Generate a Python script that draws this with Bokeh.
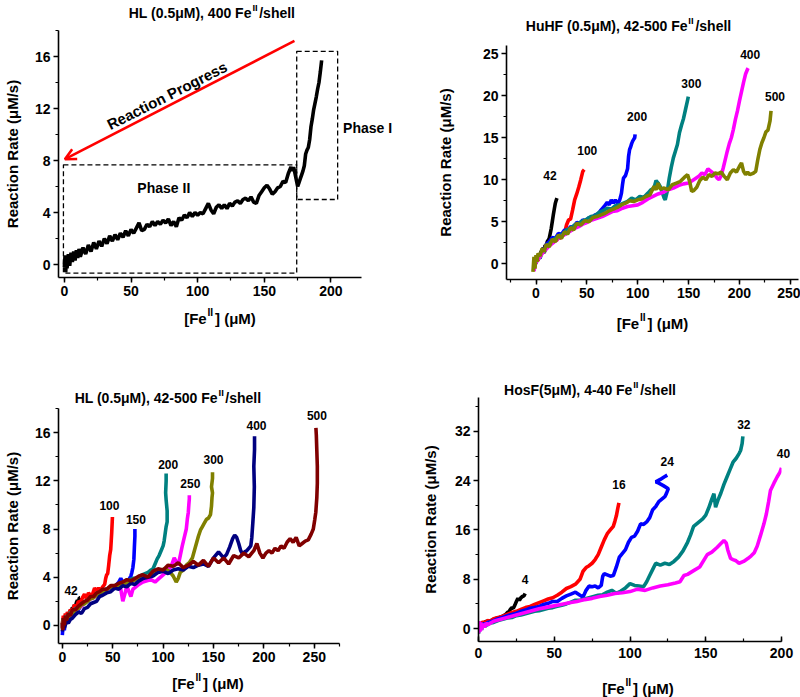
from bokeh.plotting import figure
from bokeh.layouts import column, row
from bokeh.models import Label, Range1d, SingleIntervalTicker, Arrow, OpenHead
from bokeh.embed import file_html
from bokeh.resources import INLINE
import math

FONT = "Liberation Sans"

# ---------------- data ----------------
# Panel A: HL (0.5uM), 400 Fe/shell
hl400_x = [0, 0.5, 1, 1.5, 2, 3, 4, 5, 6, 7, 8, 9, 10, 11, 12, 14, 16, 18, 20, 22, 24, 26, 28, 30, 32, 34, 36, 38, 40,
           42, 44, 46, 48, 50, 52, 54, 56, 58, 60, 62, 64, 66, 68, 70, 72, 74, 76, 78, 80, 82, 84, 86, 88, 90, 92, 94,
           96, 98, 100, 102, 104, 106, 108, 110, 112, 114, 116, 118, 120, 122, 124, 126, 128, 130, 132, 134, 136, 138,
           140, 142, 144, 146, 148, 150, 152, 154, 156, 158, 160, 162, 164, 166, 168, 170, 171, 172, 173, 174, 175, 176,
           177, 178, 179, 180, 181, 182, 183, 184, 185, 186, 187, 188, 189, 190, 191, 192, 193]
hl400_y = [-0.2, 0.7, -0.6, 0.4, -0.3, 0.8, -0.1, 0.9, 0.2, 1.0, 0.3, 1.1, 0.5, 1.2, 0.6, 1.3, 0.8, 1.5, 1.0, 1.7, 1.2,
           1.8, 1.4, 2.0, 1.6, 2.2, 1.8, 2.3, 1.9, 2.4, 2.1, 2.6, 2.2, 2.7, 2.4, 2.8, 3.2, 2.6, 2.7, 3.1, 2.9, 3.3, 3.0,
           3.3, 3.1, 3.4, 3.2, 3.5, 3.0, 3.3, 2.9, 3.6, 3.4, 3.8, 3.6, 4.0, 3.7, 4.0, 3.8, 4.0, 3.9, 4.3, 4.7, 4.2, 3.9,
           4.4, 4.6, 4.3, 4.6, 4.3, 4.7, 4.5, 4.8, 4.9, 4.7, 5.0, 5.1, 4.9, 5.2, 4.8, 4.7, 5.3, 5.6, 5.9, 6.1, 5.8, 5.4,
           5.6, 5.9, 6.0, 6.4, 6.3, 7.0, 7.5, 7.2, 7.5, 7.0, 6.5, 6.0, 6.3, 6.6, 6.9, 7.2, 7.6, 8.5, 8.8, 9.0, 9.6, 10.6,
           11.2, 11.9, 12.4, 12.9, 13.5, 14.0, 14.8, 15.7]

# Panel B: HuHF (0.5uM), 42-500 Fe/shell
huhf_names = ["42", "100", "200", "300", "400", "500"]
huhf_colors = ["#000000", "#FF0000", "#0000FF", "#008080", "#FF00FF", "#808000"]
huhf_42_x = [-2, -1, 0, 1, 2, 3, 4, 5, 6, 7, 8, 9, 10, 11, 12, 13, 14, 15, 16, 17, 18, 19, 20, 20.6]
huhf_42_y = [-0.3, 0.6, 0.1, 0.9, 0.5, 1.2, 0.9, 1.5, 1.3, 1.9, 1.7, 2.2, 2.0, 2.6, 2.8, 3.0, 3.6, 4.2, 5.0, 5.8, 6.5,
             7.2, 7.6, 7.8]
huhf_100_x = [-2, -1, 0, 1, 2, 3, 4, 6, 8, 10, 12, 14, 16, 18, 20, 22, 24, 26, 28, 30, 32, 34, 36, 38, 40, 42, 44, 46,
              47.4]
huhf_100_y = [-0.5, 0.5, 0.0, 0.8, 0.3, 1.0, 0.8, 1.4, 1.3, 1.9, 2.1, 2.6, 2.8, 3.0, 2.7, 3.1, 3.0, 3.4, 3.6, 4.6, 5.2,
              5.3, 6.4, 7.6, 8.3, 9.1, 10.0, 11.0, 11.2]
huhf_200_x = [-2, -1, 0, 2, 4, 6, 8, 10, 13, 16, 19, 22, 25, 28, 31, 34, 37, 40, 43, 46, 49, 52, 55, 58, 61, 64, 67, 70,
              72, 74, 76, 78, 80, 82, 83, 84, 85, 86, 88, 90, 91, 92, 93, 94, 95, 96, 97, 97.4]
huhf_200_y = [-0.6, 0.4, 0.2, 1.0, 0.9, 1.6, 1.6, 2.3, 2.6, 3.1, 3.0, 3.6, 3.5, 4.0, 3.9, 4.4, 4.3, 4.9, 4.8, 5.2, 5.0,
              5.5, 5.3, 5.8, 5.9, 6.4, 6.8, 7.3, 7.0, 7.6, 7.2, 7.6, 7.2, 7.5, 7.9, 8.4, 9.4, 10.2, 10.5, 11.3, 12.8,
              13.6, 13.9, 14.3, 14.6, 14.8, 15.0, 15.4]
huhf_300_x = [-2, -1, 0, 2, 4, 6, 8, 10, 14, 18, 22, 26, 30, 34, 38, 42, 46, 50, 54, 58, 62, 66, 70, 74, 78, 82, 86, 90,
              94, 98, 102, 106, 110, 113, 116, 118, 120, 122, 124, 126, 127, 129, 131, 133, 135, 137, 139, 141, 143,
              145, 147, 149, 149.7]
huhf_300_y = [-0.8, 0.3, 0.0, 0.9, 0.6, 1.5, 1.3, 2.0, 2.5, 2.9, 3.3, 3.5, 4.0, 4.2, 4.6, 4.8, 5.1, 5.3, 5.6, 5.7, 6.1,
              6.3, 6.6, 6.5, 6.9, 7.0, 7.2, 7.4, 7.8, 7.6, 8.0, 7.9, 8.4, 8.8, 9.0, 9.9, 9.6, 9.2, 8.5, 7.8, 7.6, 8.6,
              10.2, 11.5, 12.6, 13.4, 14.2, 15.6, 16.5, 17.3, 18.4, 19.5, 19.9]
huhf_400_x = [-2, -1, 0, 2, 4, 6, 8, 10, 14, 18, 22, 26, 30, 34, 38, 42, 46, 50, 55, 60, 65, 70, 75, 80, 85, 90, 95,
              100, 105, 110, 115, 120, 125, 130, 135, 140, 145, 150, 155, 160, 163, 166, 169, 172, 175, 178, 180, 182,
              184, 186, 188, 190, 192, 194, 196, 198, 200, 202, 204, 206, 208, 208.5]
huhf_400_y = [-0.9, -0.2, 0.1, 0.5, 0.8, 1.2, 1.5, 1.7, 2.2, 2.6, 3.0, 3.3, 3.6, 3.9, 4.2, 4.4, 4.7, 4.9, 5.2, 5.4, 5.6,
              5.9, 6.2, 6.3, 6.6, 6.8, 6.9, 7.0, 7.3, 7.7, 8.0, 8.3, 8.5, 8.8, 9.0, 9.3, 9.5, 9.6, 10.0, 10.4, 10.8,
              10.6, 11.3, 11.0, 10.7, 10.2, 10.0, 10.5, 11.4, 12.4, 13.4, 14.3, 15.0, 16.0, 17.2, 18.2, 19.4, 20.5,
              21.6, 22.6, 23.2, 23.3]
huhf_500_x = [-3, -2, -1, 0, 1, 2, 4, 6, 8, 10, 13, 16, 19, 22, 25, 28, 31, 34, 37, 40, 44, 48, 52, 56, 60, 64, 68, 72,
              76, 80, 84, 88, 92, 96, 100, 104, 108, 112, 114, 116, 118, 120, 122, 126, 130, 134, 138, 142, 146, 149,
              151, 153, 155, 158, 161, 164, 167, 170, 173, 176, 179, 182, 185, 188, 191, 194, 197, 200, 202, 204, 206,
              208, 210, 212, 214, 216, 218, 220, 222, 224, 226, 228, 230, 231]
huhf_500_y = [-1.0, 0.8, -0.6, 1.0, 0.2, 1.2, 0.9, 1.8, 1.4, 2.3, 2.0, 2.9, 2.6, 3.4, 3.0, 3.8, 3.5, 4.3, 4.0, 4.8, 4.6,
              5.1, 5.0, 5.5, 5.6, 5.8, 6.0, 6.3, 6.5, 6.7, 7.0, 7.2, 7.5, 7.4, 7.6, 7.7, 8.0, 8.2, 8.7, 9.2, 8.8, 9.6,
              8.9, 9.0, 8.8, 9.4, 9.6, 9.8, 10.3, 10.6, 9.8, 8.6, 8.7, 9.1, 9.9, 10.3, 10.0, 10.6, 10.4, 10.8, 10.7,
              10.9, 10.4, 10.0, 10.8, 11.2, 10.9, 11.6, 12.0, 11.0, 10.6, 10.9, 10.6, 10.7, 10.8, 11.0, 12.4, 13.6,
              14.4, 15.0, 15.7, 15.9, 17.0, 18.2]

# Panel C: HL (0.5uM), 42-500 Fe/shell
hl_names = ["42", "100", "150", "200", "250", "300", "400", "500"]
hl_colors = ["#000000", "#FF0000", "#0000FF", "#008080", "#FF00FF", "#808000", "#000080", "#800000"]
hl_42_x = [0, 0.5, 1, 2, 3, 4, 5, 6, 7, 8, 9, 10, 11, 12, 13, 14, 15, 16, 17, 17.6]
hl_42_y = [-0.2, 0.5, 0.0, 0.7, 0.3, 0.9, 0.6, 1.1, 0.8, 1.3, 1.1, 1.5, 1.4, 1.7, 1.6, 1.9, 2.1, 2.0, 2.3, 2.3]
hl_100_x = [0, 1, 2, 3, 4, 5, 6, 8, 10, 12, 14, 16, 18, 20, 22, 24, 26, 28, 30, 32, 34, 36, 38, 40, 42, 43, 44, 45, 46,
            47, 48, 48.5, 49, 49.5, 49.7]
hl_100_y = [0.1, 0.8, 0.3, 1.0, 0.6, 1.1, 0.8, 1.3, 1.2, 1.7, 1.5, 2.0, 1.9, 2.3, 2.6, 2.2, 2.7, 2.5, 2.6, 3.1, 2.9, 3.1,
            2.9, 3.2, 3.4, 3.9, 4.2, 4.3, 5.0, 5.8, 6.3, 7.0, 7.7, 8.6, 9.0]
hl_150_x = [0, 1, 2, 3, 4, 6, 8, 10, 12, 14, 16, 18, 20, 23, 26, 29, 32, 35, 38, 41, 44, 47, 50, 53, 56, 58, 60, 62, 64,
            66, 68, 69, 70, 71, 71.5, 72, 72]
hl_150_y = [-0.8, 0.3, -0.4, 0.6, 0.2, 0.7, 0.6, 1.0, 1.1, 1.4, 1.3, 1.6, 1.7, 2.0, 2.1, 2.3, 2.4, 2.6, 2.7, 2.8, 3.0,
            3.1, 3.1, 3.3, 3.6, 3.9, 3.6, 3.3, 3.5, 3.8, 4.1, 4.4, 4.8, 5.5, 6.5, 7.4, 8.0]
hl_200_x = [0, 1, 2, 4, 6, 8, 10, 13, 16, 19, 22, 25, 28, 31, 34, 37, 40, 43, 46, 49, 52, 55, 58, 61, 64, 67, 70, 73, 76,
            79, 82, 85, 88, 90, 92, 94, 96, 98, 100, 101, 102, 103, 104, 104, 103, 102.5, 103, 103]
hl_200_y = [0.0, 0.6, 0.3, 0.8, 0.7, 1.1, 1.0, 1.4, 1.5, 1.8, 1.9, 2.1, 2.3, 2.4, 2.6, 2.7, 2.8, 3.0, 3.1, 3.2, 3.3, 3.4,
            3.5, 3.6, 3.6, 3.8, 3.9, 3.9, 4.0, 4.2, 4.3, 4.4, 4.6, 4.7, 5.1, 5.5, 5.8, 6.2, 6.6, 7.0, 7.6, 8.2, 8.6,
            9.5, 10.4, 11.0, 12.0, 12.6]
hl_250_x = [0, 0.5, 1, 2, 4, 6, 8, 10, 13, 16, 19, 22, 25, 28, 31, 34, 37, 40, 43, 46, 49, 52, 55, 58, 60, 62, 64, 66,
            68, 70, 73, 76, 80, 84, 88, 92, 96, 100, 104, 108, 111, 113, 115, 117, 119, 121, 123, 124, 125, 125.5, 126,
            126]
hl_250_y = [0.0, -0.3, 0.4, 0.2, 0.6, 0.5, 0.9, 1.0, 1.3, 1.4, 1.6, 1.9, 2.0, 2.2, 2.3, 2.5, 2.6, 2.8, 2.9, 3.1, 3.2,
            3.3, 3.2, 3.0, 2.0, 2.6, 3.3, 2.8, 2.4, 3.0, 3.2, 3.4, 3.6, 3.7, 3.8, 3.6, 3.9, 4.2, 4.5, 4.9, 5.6, 5.3,
            5.0, 5.8, 6.6, 7.3, 8.0, 8.8, 9.4, 10.0, 10.5, 10.8]
hl_300_x = [0, 1, 2, 4, 6, 8, 10, 13, 16, 19, 22, 25, 28, 31, 34, 37, 40, 43, 46, 50, 54, 58, 62, 66, 70, 74, 78, 82,
            86, 90, 94, 98, 102, 106, 110, 113, 115, 117, 120, 123, 126, 129, 131, 133, 135, 137, 139, 141, 143, 145,
            147, 148, 148.5, 149, 148, 149, 149]
hl_300_y = [-0.3, 0.5, 0.1, 0.7, 0.5, 1.0, 0.9, 1.3, 1.4, 1.7, 1.8, 2.0, 2.2, 2.3, 2.5, 2.6, 2.8, 2.9, 3.1, 3.2, 3.3,
            3.4, 3.5, 3.6, 3.7, 3.8, 3.8, 4.0, 4.1, 4.2, 4.4, 4.6, 4.7, 4.5, 4.1, 3.6, 3.9, 4.4, 4.6, 5.0, 5.2, 5.6,
            6.2, 6.8, 7.4, 7.9, 8.2, 8.5, 8.8, 8.9, 9.2, 9.9, 10.6, 11.0, 11.5, 12.2, 12.7]
hl_400_x = [0, 1, 2, 4, 6, 8, 10, 13, 16, 19, 22, 25, 28, 31, 34, 37, 40, 44, 48, 52, 56, 60, 64, 68, 72, 76, 80, 85, 90,
            95, 100, 105, 110, 115, 120, 125, 130, 135, 140, 145, 150, 155, 160, 163, 166, 169, 171, 173, 175, 177,
            179, 181, 183, 185, 187, 188, 189, 190, 190.5, 190, 190.7, 190.7]
hl_400_y = [-0.5, 0.2, -0.2, 0.3, 0.2, 0.5, 0.6, 0.9, 1.1, 1.0, 1.4, 1.5, 1.8, 1.9, 2.0, 2.4, 2.5, 2.7, 2.8, 3.1, 3.0,
            3.3, 3.2, 3.5, 3.4, 3.7, 3.9, 4.0, 4.1, 4.4, 4.5, 4.3, 4.6, 4.7, 4.6, 4.9, 4.8, 5.0, 5.1, 4.9, 5.6, 6.1,
            5.6, 5.9, 6.5, 7.2, 7.5, 7.3, 6.8, 6.2, 5.9, 6.1, 6.2, 6.4, 6.6, 7.3, 8.5, 9.8, 11.5, 13.2, 14.6, 15.7]
hl_500_x = [0, 0.5, 1, 2, 3, 4, 6, 8, 10, 13, 16, 19, 22, 25, 28, 31, 34, 37, 40, 44, 48, 52, 56, 60, 64, 68, 72, 76, 80,
            85, 90, 95, 100, 105, 110, 115, 120, 125, 130, 135, 140, 145, 150, 155, 160, 165, 170, 175, 180, 185, 190,
            193, 196, 199, 202, 205, 208, 211, 214, 217, 220, 223, 226, 229, 232, 235, 238, 241, 244, 247, 249, 250.5,
            251.5, 252.5, 253, 253, 252.5, 252, 251.6]
hl_500_y = [0.2, -0.4, 0.6, 0.0, 0.8, 0.4, 1.0, 0.8, 1.3, 1.3, 1.6, 1.8, 2.0, 2.1, 2.4, 2.4, 2.7, 2.8, 3.0, 3.0, 3.3,
            3.3, 3.5, 3.6, 3.8, 3.7, 3.9, 4.1, 4.2, 4.0, 4.5, 4.7, 4.6, 5.0, 4.9, 5.2, 4.8, 5.0, 5.3, 5.0, 5.4, 4.9,
            5.6, 5.2, 5.6, 5.1, 5.8, 5.6, 6.0, 5.7, 6.2, 6.8, 6.0, 5.6, 6.0, 6.2, 6.0, 6.4, 6.2, 6.6, 6.4, 6.9, 7.2,
            6.9, 7.3, 6.6, 6.8, 7.0, 7.1, 7.6, 8.0, 8.8, 9.4, 10.6, 11.8, 13.2, 14.5, 15.8, 16.4]

# Panel D: HosF (5uM), 4-40 Fe/shell
hosf_names = ["4", "16", "24", "32", "40"]
hosf_colors = ["#000000", "#FF0000", "#0000FF", "#008080", "#FF00FF"]
hosf_4_x = [0, 1, 2, 3, 4, 5, 6, 8, 10, 12, 14, 16, 18, 19, 20, 21, 22, 23, 24, 25, 26, 27, 28, 29, 30, 30.8]
hosf_4_y = [0.2, 1.0, 0.4, 1.1, 0.6, 1.3, 0.9, 1.3, 1.5, 1.7, 1.8, 2.0, 2.3, 2.6, 2.7, 3.1, 3.4, 3.3, 3.8, 4.4, 4.9,
            4.6, 5.0, 5.2, 5.3, 5.7]
hosf_16_x = [0, 1, 2, 3, 4, 6, 8, 10, 13, 16, 19, 22, 25, 28, 31, 34, 37, 40, 43, 46, 49, 52, 55, 58, 61, 64, 67, 69,
             71, 73, 75, 77, 79, 81, 83, 85, 87, 89, 90, 91, 92, 92.7]
hosf_16_y = [0.0, 0.9, 0.4, 1.2, 0.8, 1.3, 1.2, 1.6, 1.8, 2.0, 2.3, 2.6, 2.8, 3.1, 3.4, 3.6, 3.9, 4.2, 4.5, 4.8, 5.0,
             5.4, 5.9, 6.5, 6.8, 7.2, 8.0, 9.3, 9.9, 10.2, 10.6, 11.2, 12.0, 13.2, 14.4, 15.4, 16.0, 16.6, 17.4, 18.3,
             19.6, 20.4]
hosf_24_x = [0, 1, 2, 3, 4, 6, 8, 10, 13, 16, 19, 22, 25, 28, 31, 34, 37, 40, 43, 46, 49, 52, 55, 58, 61, 64, 67, 69,
             71, 73, 75, 77, 79, 81, 82, 83, 85, 87, 89, 91, 93, 95, 97, 99, 101, 103, 105, 107, 109, 111, 113, 115,
             117, 119, 121, 123, 124, 125.3, 122, 119, 117, 120, 122.5, 124.6]
hosf_24_y = [-0.3, 0.8, 0.2, 0.9, 0.5, 1.0, 1.1, 1.3, 1.6, 1.8, 2.1, 2.3, 2.5, 2.8, 3.0, 3.3, 3.4, 3.6, 3.9, 4.1, 4.4,
             4.4, 4.9, 5.3, 5.6, 5.9, 5.4, 5.1, 6.2, 6.9, 6.8, 6.9, 6.6, 7.0, 8.5, 8.9, 8.7, 8.5, 8.6, 10.0, 11.6,
             12.2, 12.8, 14.0, 14.8, 15.0, 15.8, 17.0, 16.9, 17.3, 18.0, 19.3, 19.8, 20.6, 21.0, 21.4, 21.9, 22.7,
             23.2, 23.6, 23.8, 24.2, 24.6, 24.9]
hosf_32_x = [0, 1, 2, 3, 4, 6, 8, 10, 13, 16, 19, 22, 25, 28, 31, 34, 37, 40, 43, 46, 49, 52, 55, 58, 61, 64, 67, 70,
             73, 76, 79, 82, 85, 88, 91, 94, 97, 100, 103, 106, 109, 111, 113, 115, 117, 120, 123, 126, 129, 132, 135,
             138, 140, 142, 145, 148, 150, 152, 154, 155.4, 156.5, 158, 160, 162, 164, 166, 168, 170, 172, 173, 174,
             174.5]
hosf_32_y = [-0.8, 0.6, -0.2, 0.8, 0.3, 0.7, 0.9, 1.0, 1.3, 1.5, 1.7, 1.8, 2.1, 2.2, 2.4, 2.6, 2.8, 2.9, 3.1, 3.3, 3.4,
             3.6, 3.8, 4.0, 4.3, 4.6, 4.6, 4.8, 5.0, 5.2, 5.4, 5.5, 5.9, 6.2, 5.7, 6.1, 6.6, 7.3, 7.0, 6.9, 6.8, 7.6,
             8.6, 9.6, 10.6, 10.3, 10.6, 10.4, 10.9, 11.6, 12.6, 14.0, 15.2, 16.6, 17.2, 17.8, 18.4, 19.6, 21.0, 21.9,
             19.7, 20.8, 22.0, 23.4, 24.6, 25.8, 27.0, 27.6, 28.4, 28.9, 30.0, 31.2]
hosf_40_x = [0, 0.5, 1, 1.5, 2, 3, 4, 5, 6, 8, 10, 13, 16, 19, 22, 25, 28, 31, 34, 37, 40, 44, 48, 52, 56, 60, 65, 70,
             75, 80, 85, 90, 95, 100, 105, 110, 115, 120, 125, 130, 133, 135.6, 138, 142, 146, 151, 154, 157.6, 160,
             162, 163.5, 164.5, 165.3, 166.4, 168, 170, 172, 175, 178, 180, 182, 184, 186, 188.4, 190, 191.5, 192.7,
             195, 197.1, 199, 200]
hosf_40_y = [-0.8, 1.2, -0.5, 1.0, -0.2, 0.8, 0.2, 0.9, 0.6, 0.9, 1.2, 1.4, 1.6, 1.8, 2.0, 2.2, 2.4, 2.6, 2.8, 3.0, 3.2,
             3.4, 3.6, 3.8, 4.0, 4.2, 4.4, 4.7, 4.9, 5.2, 5.4, 5.7, 5.8, 6.0, 6.4, 6.2, 6.6, 6.9, 7.1, 7.4, 7.6, 8.6,
             8.8, 9.4, 10.0, 12.0, 12.4, 13.2, 13.8, 14.3, 13.9, 12.8, 12.2, 11.4, 11.2, 11.0, 10.6, 10.9, 11.4, 11.8,
             12.3, 13.4, 15.0, 17.0, 18.6, 20.6, 22.4, 23.6, 24.6, 25.4, 26.1]

# ---------------- text metrics (Liberation Sans Bold == Arial Bold advance widths) ----------------
NB = "\u00a0"
AW = {' ': 278, NB: 278, '(': 333, ')': 333, '.': 278, ',': 278, '/': 278, '-': 333, '[': 333, ']': 333, 'μ': 611}
for d in '0123456789':
    AW[d] = 556
AW.update(dict(A=722, E=667, F=611, H=722, I=278, L=611, M=833, P=667, R=722, S=667))
AW.update(dict(a=556, c=556, e=556, g=611, h=611, i=278, l=278, n=611, o=611, r=389, s=556, t=333, u=611))


def tw(t, size):
    return sum(AW.get(c, 556) for c in t) * size / 1000.0


def lab(text, x, y, size, xoff=0.0, yoff=0.0, align="center", **kw):
    return Label(x=x, y=y, x_offset=xoff, y_offset=yoff, text=text, text_font=FONT, text_font_style="bold",
                 text_font_size=f"{size:.1f}px", text_align=align, text_baseline="middle", text_color="black", **kw)


def sup_text(p, x, y, pre, post, size, xoff, yoff, main_side, sup_side):
    """text 'pre' + superscript II + 'post'; side-panel labels so they are not clipped by the frame"""
    gap = NB + NB
    sup_size = size * 0.68
    w_pre, w_gap, w_post = tw(pre, size), tw(gap, size), tw(post, size)
    start = xoff - (w_pre + w_gap + w_post) / 2
    p.add_layout(lab(pre + gap + post, x, y, size, start, yoff, "left"), main_side)
    sx = start + w_pre + (w_gap - tw("II", sup_size)) / 2 - 0.5
    p.add_layout(lab("II", x, y, sup_size, sx, yoff + size * 0.38, "left"), sup_side)


def make_fig(w, h, xr, yr, borders, xint, yint, ylab_standoff, x_ticks_in=False):
    bl, br, bt, bb = borders
    p = figure(width=w, height=h, x_range=Range1d(*xr), y_range=Range1d(*yr), output_backend="svg",
               toolbar_location=None, min_border_left=bl, min_border_right=br, min_border_top=bt,
               min_border_bottom=bb)
    p.outline_line_color = None
    p.xgrid.visible = False
    p.ygrid.visible = False
    p.background_fill_color = "white"
    p.border_fill_color = "white"
    p.xaxis.ticker = SingleIntervalTicker(interval=xint, num_minor_ticks=2)
    p.yaxis.ticker = SingleIntervalTicker(interval=yint, num_minor_ticks=2)
    for ax in (p.xaxis[0], p.yaxis[0]):
        ax.axis_line_width = 1.6
        ax.axis_line_color = "black"
        ax.major_tick_line_color = "black"
        ax.minor_tick_line_color = "black"
        ax.major_tick_line_width = 1.5
        ax.minor_tick_line_width = 1.2
        ax.major_tick_out = 5
        ax.major_tick_in = 0
        ax.minor_tick_out = 3
        ax.minor_tick_in = 0
        ax.major_label_text_font = FONT
        ax.major_label_text_font_style = "bold"
        ax.major_label_text_font_size = "14px"
        ax.major_label_text_color = "black"
        ax.major_label_standoff = 3
    if x_ticks_in:
        ax = p.xaxis[0]
        ax.major_tick_out, ax.major_tick_in = 0, 5
        ax.minor_tick_out, ax.minor_tick_in = 0, 3
        ax.major_label_standoff = 6
    p.yaxis.axis_label = "Reaction Rate (μM/s)"
    p.yaxis.axis_label_text_font = FONT
    p.yaxis.axis_label_text_font_style = "bold"
    p.yaxis.axis_label_text_font_size = "15px"
    p.yaxis.axis_label_text_color = "black"
    p.yaxis.axis_label_standoff = ylab_standoff
    return p


def titles(p, xr, yr, title, tx, ty, lx, ly, tsup_side, xsup_side):
    xc = (xr[0] + xr[1]) / 2
    sup_text(p, xc, yr[1], title, "/shell", 14, tx, ty, "above", tsup_side)
    sup_text(p, xc, yr[0], "[Fe", "] (μM)", 15, lx, -ly, "below", xsup_side)


def number_labels(p, names, xs, ys, offs, side_for=None):
    side_for = side_for or {}
    for n, x, y, (dx, dy) in zip(names, xs, ys, offs):
        L = lab(n, x[-1], y[-1], 12, dx, dy)
        if n in side_for:
            p.add_layout(L, side_for[n])
        else:
            p.add_layout(L)


LW = 3.6

# ---------------- Panel A ----------------
xrA, yrA = (-4.4, 222.9), (-1.0, 18.0)
pA = make_fig(400, 350, xrA, yrA, (53, 39, 30, 73), 50, 4, 11)
titles(pA, xrA, yrA, "HL (0.5μM), 400 Fe", 2, 18, 10, 41, "right", "right")
phase2_box = dict(left=-0.7, right=174.3, bottom=-0.67, top=7.67)
phase1_box = dict(left=174.3, right=205.0, bottom=5.0, top=16.4)
for b in (phase2_box, phase1_box):
    pA.quad(left=[b["left"]], right=[b["right"]], bottom=[b["bottom"]], top=[b["top"]], fill_color=None,
            line_color="black", line_width=1.3, line_dash="5 3")
pA.line(hl400_x, hl400_y, line_color="black", line_width=LW)
arrow_start = (172.6, 17.2)
arrow_end = (0.4, 8.1)
pA.add_layout(Arrow(x_start=arrow_start[0], y_start=arrow_start[1], x_end=arrow_end[0], y_end=arrow_end[1],
                    line_color="#FF0000", line_width=2.6,
                    end=OpenHead(size=11, line_color="#FF0000", line_width=2.6)))
ppx = 308 / (xrA[1] - xrA[0])
ppy = 247 / (yrA[1] - yrA[0])
ang = math.degrees(math.atan2((arrow_start[1] - arrow_end[1]) * ppy, (arrow_start[0] - arrow_end[0]) * ppx))
pA.add_layout(lab("Reaction Progress", 77, 13.0, 15, angle=ang, angle_units="deg"))
pA.add_layout(lab("Phase II", 74.6, 5.85, 14))
pA.add_layout(lab("Phase I", 227.5, 10.5, 14), "below")

# ---------------- Panel B ----------------
xrB, yrB = (-29, 258), (-1.9, 26.0)
pB = make_fig(400, 350, xrB, yrB, (106, 2, 45, 71), 50, 5, 26)
titles(pB, xrB, yrB, "HuHF (0.5μM), 42-500 Fe", -24, 20, 0, 44, "above", "below")
huhf_x = [huhf_42_x, huhf_100_x, huhf_200_x, huhf_300_x, huhf_400_x, huhf_500_x]
huhf_y = [huhf_42_y, huhf_100_y, huhf_200_y, huhf_300_y, huhf_400_y, huhf_500_y]
for x, y, c in zip(huhf_x, huhf_y, huhf_colors):
    pB.line(x, y, line_color=c, line_width=LW)
number_labels(pB, huhf_names, huhf_x, huhf_y, [(-7, 23), (3, 19), (2, 18), (3, 13), (2, 14), (4, 14)])

# ---------------- Panel C ----------------
xrC, yrC = (-3.8, 275), (-1.5, 18.0)
pC = make_fig(400, 347, xrC, yrC, (49, 61, 58, 54), 50, 4, 11)
titles(pC, xrC, yrC, "HL (0.5μM), 42-500 Fe", -31, 11, 9, 40, "right", "right")
hl_x = [hl_42_x, hl_100_x, hl_150_x, hl_200_x, hl_250_x, hl_300_x, hl_400_x, hl_500_x]
hl_y = [hl_42_y, hl_100_y, hl_150_y, hl_200_y, hl_250_y, hl_300_y, hl_400_y, hl_500_y]
for x, y, c in zip(hl_x, hl_y, hl_colors):
    pC.line(x, y, line_color=c, line_width=LW)
number_labels(pC, hl_names, hl_x, hl_y, [(-9, 7), (-3, 11), (1, 10), (2, 9), (1, 12), (1, 13), (2, 11), (1, 12)])

# ---------------- Panel D ----------------
xrD, yrD = (0, 200), (-2.1, 37.5)
pD = make_fig(400, 347, xrD, yrD, (78, 19, 47, 56), 50, 8, 13, x_ticks_in=True)
titles(pD, xrD, yrD, "HosF(5μM), 4-40 Fe", -40, 8, 8, 47, "above", "below")
hosf_x = [hosf_4_x, hosf_16_x, hosf_24_x, hosf_32_x, hosf_40_x]
hosf_y = [hosf_4_y, hosf_16_y, hosf_24_y, hosf_32_y, hosf_40_y]
for x, y, c in zip(hosf_x, hosf_y, hosf_colors):
    pD.line(x, y, line_color=c, line_width=LW)
number_labels(pD, hosf_names, hosf_x, hosf_y, [(0, 14), (0, 18), (0, 14), (1, 12), (2, 14)], {"40": "right"})

# each plot wrapped on its own so that the row does not align the plot frames
layout = column(row(column(pA), column(pB)), row(column(pC), column(pD)))
open("out.html", "w").write(file_html(layout, INLINE))
